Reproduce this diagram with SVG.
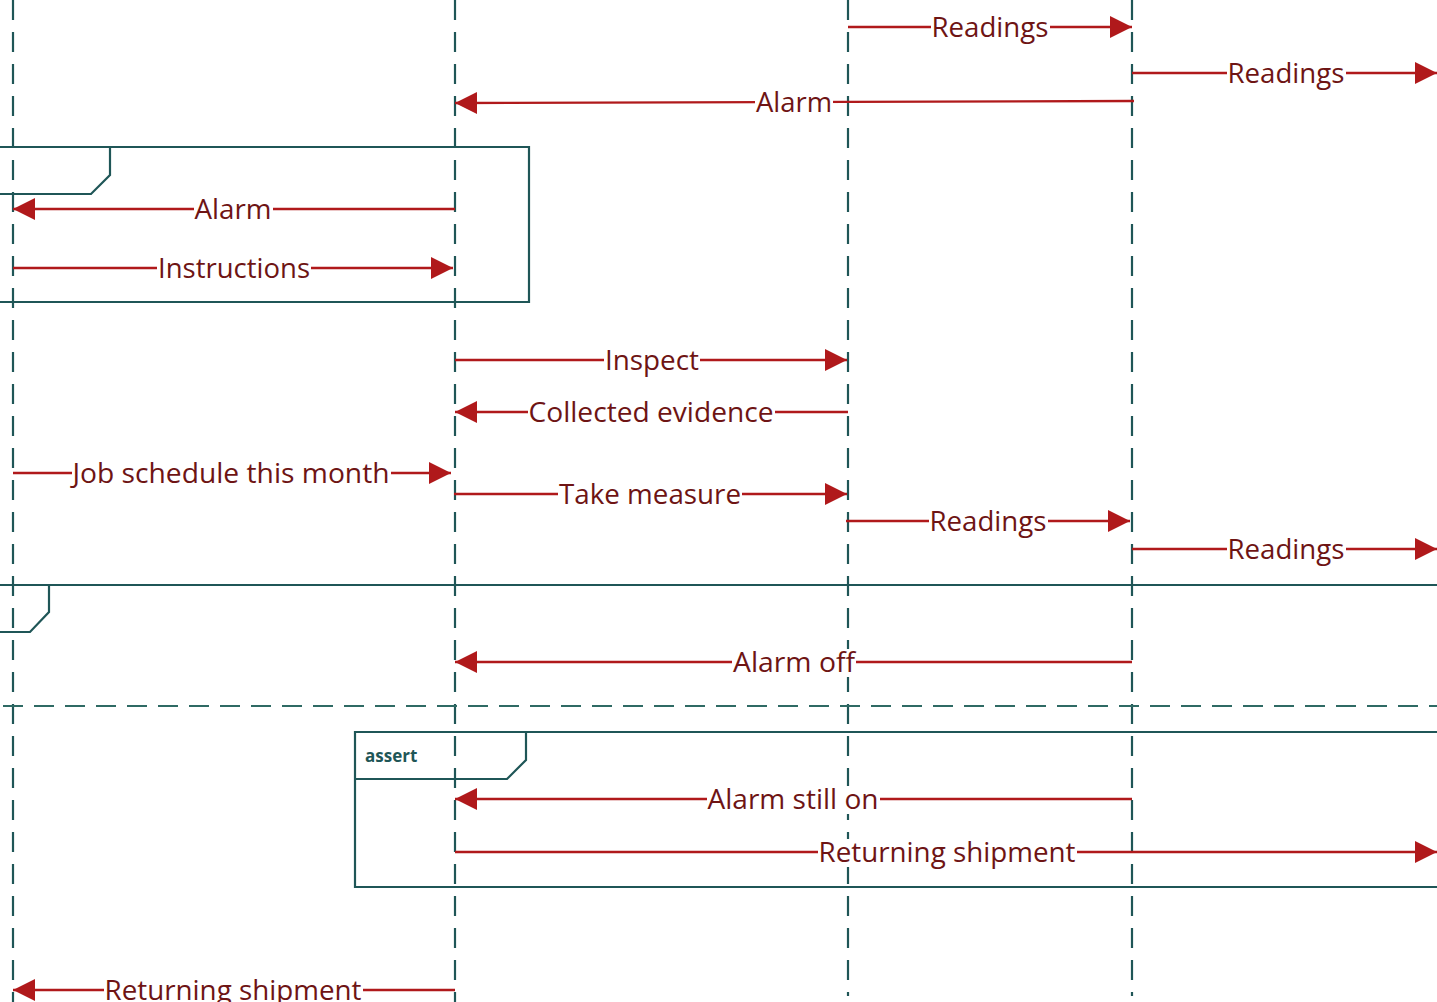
<svg xmlns="http://www.w3.org/2000/svg" width="1437" height="1002" viewBox="0 0 1437 1002">
<style>
.life{stroke:#1f5657;stroke-width:2.2;stroke-dasharray:20 12;fill:none}
.frame{stroke:#1f5657;stroke-width:2.2;fill:none}
.sep{stroke:#2f6a64;stroke-width:2.2;stroke-dasharray:20 11;fill:none}
.msg{stroke:#b0191b;stroke-width:2.4;fill:none}
.arr{marker-end:url(#ah)}
.lbl{font-family:"Open Sans","Noto Sans",sans-serif;font-size:28px;fill:#6e1414;text-anchor:middle}
.bg{fill:#ffffff}
.tag{font-family:"Open Sans","Noto Sans",sans-serif;font-size:17px;font-weight:bold;fill:#1f5657}
</style>
<defs>
<marker id="ah" markerUnits="userSpaceOnUse" markerWidth="24" markerHeight="24" refX="22" refY="11" orient="auto" overflow="visible">
<path d="M0,0 L22,11 L0,22 Z" fill="#b0191b"/>
</marker>
</defs>
<rect width="1437" height="1002" fill="#ffffff"/>
<g id="lifelines">
<line id="life-a" class="life" x1="13" y1="0" x2="13" y2="1002"/>
<line id="life-b" class="life" x1="455" y1="0" x2="455" y2="1002"/>
<line id="life-c" class="life" x1="848" y1="0" x2="848" y2="996"/>
<line id="life-d" class="life" x1="1132" y1="0" x2="1132" y2="996"/>
</g>
<g id="frame-top">
<path class="frame" d="M-5,147 H529 V302 H-5"/>
<path class="frame" d="M110,147 V175 L91,194 H-5"/>
</g>
<g id="frame-mid">
<path class="frame" d="M-5,585 H1442"/>
<path class="frame" d="M49,585 V612 L30,632 H-5"/>
<line class="sep" x1="3" y1="706" x2="1442" y2="706"/>
</g>
<g id="frame-assert">
<path class="frame" d="M1442,732 H355 V887 H1442"/>
<path class="frame" d="M526,732 V760 L507,779 H355"/>
<text class="tag" x="365" y="762">assert</text>
</g>
<g id="connectors">
<line class="msg arr" x1="848" y1="27" x2="1132" y2="27"/>
<line class="msg arr" x1="1132" y1="73" x2="1437" y2="73"/>
<line class="msg arr" x1="1134" y1="101" x2="455" y2="103"/>
<line class="msg arr" x1="455" y1="209" x2="13" y2="209"/>
<line class="msg arr" x1="13" y1="268" x2="453" y2="268"/>
<line class="msg arr" x1="455" y1="360" x2="847" y2="360"/>
<line class="msg arr" x1="848" y1="412" x2="455" y2="412"/>
<line class="msg arr" x1="13" y1="473" x2="451" y2="473"/>
<line class="msg arr" x1="454" y1="494" x2="847" y2="494"/>
<line class="msg arr" x1="846" y1="521" x2="1130" y2="521"/>
<line class="msg arr" x1="1132" y1="549" x2="1437" y2="549"/>
<line class="msg arr" x1="1132" y1="662" x2="455" y2="662"/>
<line class="msg arr" x1="1132" y1="799" x2="455" y2="799"/>
<line class="msg arr" x1="455" y1="852" x2="1437" y2="852"/>
<line class="msg arr" x1="455" y1="990" x2="13" y2="990"/>
</g>
<g id="labels">
<g id="l1"><rect class="bg" x="931" y="14" width="119" height="28"/><text class="lbl" x="990" y="37" textLength="117" lengthAdjust="spacingAndGlyphs">Readings</text></g>
<g id="l2"><rect class="bg" x="1227" y="60" width="119" height="28"/><text class="lbl" x="1286" y="83" textLength="117" lengthAdjust="spacingAndGlyphs">Readings</text></g>
<g id="l3"><rect class="bg" x="755" y="89" width="78" height="28"/><text class="lbl" x="794" y="112" textLength="76" lengthAdjust="spacingAndGlyphs">Alarm</text></g>
<g id="l4"><rect class="bg" x="194" y="196" width="79" height="28"/><text class="lbl" x="233" y="219" textLength="77" lengthAdjust="spacingAndGlyphs">Alarm</text></g>
<g id="l5"><rect class="bg" x="157" y="255" width="154" height="28"/><text class="lbl" x="234" y="278" textLength="152" lengthAdjust="spacingAndGlyphs">Instructions</text></g>
<g id="l6"><rect class="bg" x="604" y="347" width="96" height="28"/><text class="lbl" x="652" y="370" textLength="94" lengthAdjust="spacingAndGlyphs">Inspect</text></g>
<g id="l7"><rect class="bg" x="528" y="399" width="247" height="28"/><text class="lbl" x="651" y="422" textLength="245" lengthAdjust="spacingAndGlyphs">Collected evidence</text></g>
<g id="l8"><rect class="bg" x="72" y="460" width="319" height="28"/><text class="lbl" x="231" y="483" textLength="317" lengthAdjust="spacingAndGlyphs">Job schedule this month</text></g>
<g id="l9"><rect class="bg" x="558" y="481" width="184" height="28"/><text class="lbl" x="650" y="504" textLength="182" lengthAdjust="spacingAndGlyphs">Take measure</text></g>
<g id="l10"><rect class="bg" x="929" y="508" width="119" height="28"/><text class="lbl" x="988" y="531" textLength="117" lengthAdjust="spacingAndGlyphs">Readings</text></g>
<g id="l11"><rect class="bg" x="1227" y="536" width="119" height="28"/><text class="lbl" x="1286" y="559" textLength="117" lengthAdjust="spacingAndGlyphs">Readings</text></g>
<g id="l12"><rect class="bg" x="732" y="649" width="124" height="28"/><text class="lbl" x="794" y="672" textLength="122" lengthAdjust="spacingAndGlyphs">Alarm off</text></g>
<g id="l13"><rect class="bg" x="707" y="786" width="173" height="28"/><text class="lbl" x="793" y="809" textLength="171" lengthAdjust="spacingAndGlyphs">Alarm still on</text></g>
<g id="l14"><rect class="bg" x="818" y="839" width="259" height="28"/><text class="lbl" x="947" y="862" textLength="257" lengthAdjust="spacingAndGlyphs">Returning shipment</text></g>
<g id="l15"><rect class="bg" x="104" y="977" width="259" height="28"/><text class="lbl" x="233" y="1000" textLength="257" lengthAdjust="spacingAndGlyphs">Returning shipment</text></g>
</g>
</svg>
